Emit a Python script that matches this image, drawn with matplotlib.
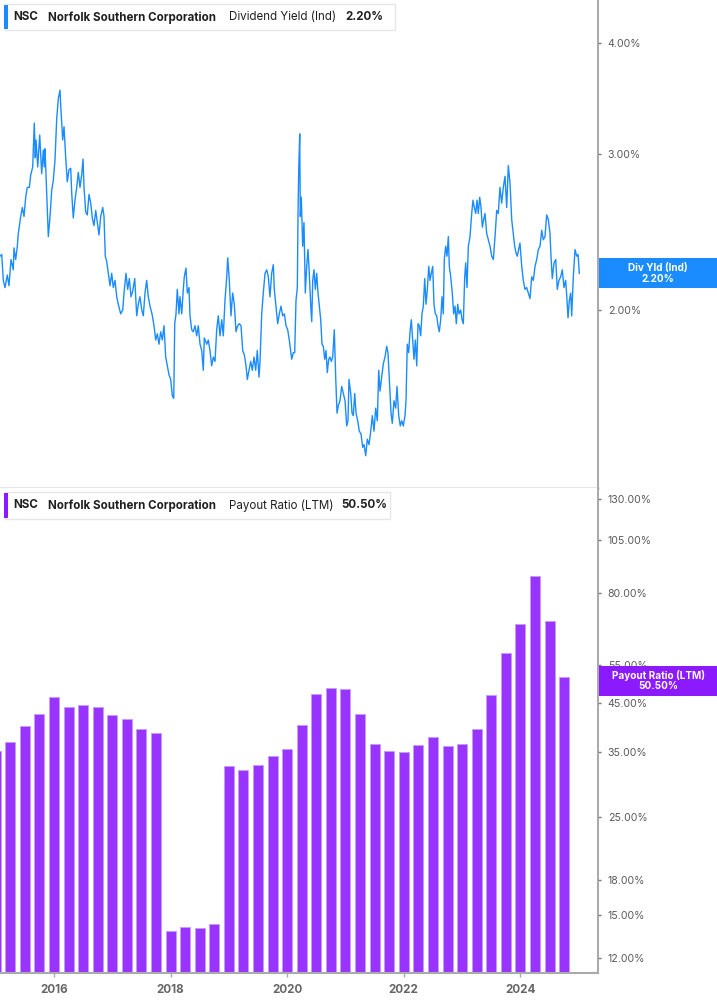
import matplotlib
matplotlib.use("Agg")
import matplotlib.pyplot as plt
from matplotlib.patches import Rectangle
from matplotlib.ticker import NullLocator

# ---------------- data ----------------
div_years = [
    2015.074, 2015.103, 2015.131, 2015.160, 2015.199, 2015.228, 2015.263, 2015.302, 2015.314, 2015.343,
    2015.371, 2015.388, 2015.429, 2015.457, 2015.486, 2015.515, 2015.542, 2015.577, 2015.601, 2015.635,
    2015.662, 2015.679, 2015.692, 2015.721, 2015.755, 2015.789, 2015.817, 2015.834, 2015.846, 2015.875,
    2015.903, 2015.932, 2015.961, 2015.988, 2016.017, 2016.047, 2016.074, 2016.103, 2016.120, 2016.149,
    2016.172, 2016.201, 2016.228, 2016.258, 2016.287, 2016.304, 2016.331, 2016.360, 2016.390, 2016.417,
    2016.446, 2016.475, 2016.498, 2016.515, 2016.544, 2016.571, 2016.601, 2016.630, 2016.657, 2016.686,
    2016.716, 2016.743, 2016.772, 2016.801, 2016.836, 2016.858, 2016.880, 2016.904, 2016.932, 2016.961,
    2016.990, 2017.017, 2017.047, 2017.076, 2017.103, 2017.144, 2017.179, 2017.201, 2017.235, 2017.264,
    2017.292, 2017.321, 2017.350, 2017.385, 2017.419, 2017.446, 2017.475, 2017.505, 2017.532, 2017.561,
    2017.590, 2017.618, 2017.647, 2017.681, 2017.716, 2017.745, 2017.772, 2017.801, 2017.830, 2017.858,
    2017.887, 2017.916, 2017.944, 2017.973, 2018.002, 2018.030, 2018.054, 2018.071, 2018.093, 2018.115,
    2018.144, 2018.161, 2018.191, 2018.218, 2018.235, 2018.264, 2018.287, 2018.316, 2018.333, 2018.362,
    2018.390, 2018.419, 2018.448, 2018.475, 2018.505, 2018.534, 2018.561, 2018.578, 2018.620, 2018.647,
    2018.676, 2018.705, 2018.733, 2018.762, 2018.791, 2018.818, 2018.848, 2018.877, 2018.904, 2018.933,
    2018.963, 2018.980, 2019.007, 2019.036, 2019.065, 2019.093, 2019.122, 2019.151, 2019.179, 2019.208,
    2019.237, 2019.265, 2019.294, 2019.316, 2019.345, 2019.374, 2019.402, 2019.431, 2019.460, 2019.487,
    2019.517, 2019.534, 2019.563, 2019.590, 2019.620, 2019.649, 2019.676, 2019.705, 2019.734, 2019.762,
    2019.779, 2019.808, 2019.837, 2019.865, 2019.894, 2019.923, 2019.951, 2019.980, 2020.009, 2020.036,
    2020.077, 2020.105, 2020.129, 2020.151, 2020.174, 2020.186, 2020.198, 2020.215, 2020.225, 2020.242,
    2020.266, 2020.288, 2020.311, 2020.335, 2020.357, 2020.379, 2020.403, 2020.421, 2020.438, 2020.460,
    2020.483, 2020.506, 2020.529, 2020.551, 2020.575, 2020.597, 2020.620, 2020.644, 2020.666, 2020.688,
    2020.712, 2020.734, 2020.757, 2020.781, 2020.808, 2020.832, 2020.855, 2020.877, 2020.906, 2020.935,
    2020.963, 2020.992, 2021.021, 2021.043, 2021.060, 2021.090, 2021.112, 2021.134, 2021.158, 2021.181,
    2021.210, 2021.237, 2021.266, 2021.295, 2021.318, 2021.347, 2021.374, 2021.404, 2021.433, 2021.460,
    2021.489, 2021.518, 2021.546, 2021.570, 2021.592, 2021.621, 2021.649, 2021.678, 2021.707, 2021.729,
    2021.752, 2021.781, 2021.803, 2021.832, 2021.861, 2021.884, 2021.913, 2021.940, 2021.964, 2021.992,
    2022.021, 2022.038, 2022.060, 2022.084, 2022.107, 2022.129, 2022.153, 2022.175, 2022.198, 2022.222,
    2022.244, 2022.266, 2022.290, 2022.312, 2022.335, 2022.359, 2022.381, 2022.404, 2022.428, 2022.450,
    2022.472, 2022.496, 2022.518, 2022.541, 2022.565, 2022.587, 2022.609, 2022.633, 2022.656, 2022.678,
    2022.695, 2022.719, 2022.741, 2022.764, 2022.781, 2022.805, 2022.832, 2022.856, 2022.879, 2022.901,
    2022.925, 2022.947, 2022.976, 2022.999, 2023.021, 2023.045, 2023.062, 2023.084, 2023.107, 2023.136,
    2023.165, 2023.187, 2023.210, 2023.234, 2023.256, 2023.278, 2023.302, 2023.325, 2023.347, 2023.371,
    2023.393, 2023.422, 2023.450, 2023.479, 2023.508, 2023.536, 2023.565, 2023.594, 2023.621, 2023.650,
    2023.679, 2023.707, 2023.736, 2023.765, 2023.793, 2023.822, 2023.851, 2023.878, 2023.902, 2023.925,
    2023.947, 2023.971, 2023.993, 2024.023, 2024.050, 2024.079, 2024.108, 2024.136, 2024.165, 2024.194,
    2024.222, 2024.251, 2024.280, 2024.307, 2024.337, 2024.366, 2024.393, 2024.422, 2024.451, 2024.479,
    2024.508, 2024.525, 2024.547, 2024.577, 2024.606, 2024.633, 2024.662, 2024.691, 2024.719, 2024.748,
    2024.777, 2024.800, 2024.817, 2024.839, 2024.863, 2024.880, 2024.908, 2024.937, 2024.966, 2024.989,
    2025.011,
]
div_yield = [
    2.30, 2.31, 2.16, 2.12, 2.19, 2.13, 2.28, 2.22, 2.35, 2.28,
    2.36, 2.44, 2.55, 2.61, 2.55, 2.68, 2.75, 2.75, 2.84, 2.90,
    3.25, 2.97, 3.11, 2.90, 3.15, 2.85, 3.03, 2.90, 3.04, 2.71,
    2.42, 2.55, 2.73, 2.80, 2.95, 3.29, 3.46, 3.54, 3.36, 3.11,
    3.22, 2.97, 2.79, 2.88, 2.89, 2.71, 2.54, 2.66, 2.75, 2.86,
    2.75, 2.84, 2.96, 2.75, 2.58, 2.56, 2.70, 2.64, 2.54, 2.49,
    2.59, 2.51, 2.43, 2.55, 2.61, 2.55, 2.30, 2.27, 2.20, 2.13,
    2.20, 2.12, 2.16, 2.07, 2.03, 1.98, 2.00, 2.09, 2.20, 2.11,
    2.17, 2.07, 2.10, 2.17, 1.97, 2.03, 2.07, 2.00, 1.97, 2.09,
    2.16, 2.07, 2.02, 1.98, 1.92, 1.85, 1.88, 1.83, 1.89, 1.85,
    1.92, 1.77, 1.73, 1.69, 1.67, 1.60, 1.59, 1.93, 1.98, 2.11,
    1.98, 2.07, 1.98, 2.11, 2.18, 2.23, 2.09, 2.12, 1.97, 1.90,
    1.89, 1.92, 1.87, 1.92, 1.83, 1.80, 1.71, 1.86, 1.83, 1.85,
    1.80, 1.73, 1.77, 1.75, 1.90, 1.97, 1.87, 1.95, 1.87, 2.05,
    2.18, 2.29, 2.16, 1.97, 2.09, 2.03, 1.89, 1.92, 1.93, 1.92,
    1.80, 1.78, 1.73, 1.67, 1.71, 1.75, 1.71, 1.77, 1.71, 1.80,
    1.68, 1.75, 1.98, 2.09, 2.20, 2.22, 2.18, 2.07, 2.20, 2.25,
    2.11, 2.02, 1.93, 1.98, 2.02, 1.97, 1.98, 1.92, 1.90, 1.85,
    1.76, 1.79, 1.79, 2.05, 2.12, 2.57, 2.88, 3.16, 2.55, 2.68,
    2.36, 2.51, 2.09, 2.24, 2.34, 2.20, 2.03, 1.94, 2.16, 2.22,
    2.11, 2.20, 2.09, 2.02, 1.95, 1.83, 1.82, 1.76, 1.80, 1.70,
    1.76, 1.77, 1.75, 1.77, 1.90, 1.68, 1.53, 1.56, 1.58, 1.64,
    1.61, 1.58, 1.48, 1.50, 1.67, 1.61, 1.53, 1.52, 1.61, 1.53,
    1.50, 1.46, 1.45, 1.40, 1.41, 1.37, 1.43, 1.41, 1.46, 1.52,
    1.46, 1.55, 1.50, 1.71, 1.62, 1.68, 1.74, 1.77, 1.82, 1.79,
    1.67, 1.53, 1.49, 1.58, 1.55, 1.64, 1.52, 1.48, 1.50, 1.48,
    1.52, 1.58, 1.83, 1.79, 1.89, 1.95, 1.85, 1.76, 1.85, 1.73,
    1.93, 1.92, 1.87, 1.98, 2.02, 2.17, 2.03, 2.11, 2.24, 2.16,
    2.20, 2.24, 2.03, 1.98, 1.97, 1.92, 1.89, 1.95, 2.07, 1.98,
    2.28, 2.36, 2.30, 2.42, 2.24, 2.18, 2.09, 1.98, 2.02, 1.93,
    2.03, 1.98, 2.00, 1.95, 1.93, 2.18, 2.26, 2.12, 2.36, 2.42,
    2.57, 2.66, 2.61, 2.57, 2.66, 2.57, 2.68, 2.61, 2.48, 2.53,
    2.57, 2.44, 2.40, 2.36, 2.30, 2.28, 2.42, 2.59, 2.57, 2.75,
    2.64, 2.75, 2.83, 2.61, 2.91, 2.78, 2.53, 2.44, 2.36, 2.32,
    2.30, 2.34, 2.38, 2.24, 2.16, 2.11, 2.12, 2.09, 2.06, 2.18,
    2.16, 2.24, 2.28, 2.34, 2.36, 2.46, 2.40, 2.42, 2.56, 2.53,
    2.44, 2.30, 2.17, 2.26, 2.28, 2.11, 2.16, 2.18, 2.22, 2.12,
    2.16, 2.05, 1.96, 2.05, 2.09, 1.97, 2.18, 2.34, 2.30, 2.31,
    2.20,
]

payout_quarters = [
    2015.00, 2015.25, 2015.50, 2015.75, 2016.00, 2016.25, 2016.50, 2016.75,
    2017.00, 2017.25, 2017.50, 2017.75, 2018.00, 2018.25, 2018.50, 2018.75,
    2019.00, 2019.25, 2019.50, 2019.75, 2020.00, 2020.25, 2020.50, 2020.75,
    2021.00, 2021.25, 2021.50, 2021.75, 2022.00, 2022.25, 2022.50, 2022.75,
    2023.00, 2023.25, 2023.50, 2023.75, 2024.00, 2024.25, 2024.50, 2024.75,
]
payout_ratio = [
    34.1, 35.8, 39.1, 41.6, 45.6, 43.1, 43.6, 43.1,
    41.4, 40.4, 38.5, 37.6, 12.8, 13.1, 13.0, 13.3,
    31.5, 30.9, 31.6, 33.2, 34.6, 39.3, 46.2, 47.8,
    47.4, 41.7, 35.5, 34.1, 34.0, 35.2, 36.8, 35.1,
    35.5, 38.5, 46.1, 57.5, 66.8, 86.4, 67.9, 50.5,
]

yield_ticks = [2.0, 3.0, 4.0]
payout_ticks = [12, 15, 18, 25, 35, 45, 55, 80, 105, 130]
year_ticks = [2016, 2018, 2020, 2022, 2024]

company = "Norfolk Southern Corporation"
ticker = "NSC"
last_yield = "2.20%"
last_payout = "50.50%"

# ---------------- styling ----------------
BLUE = "#1a8cff"
PURPLE_BAR = "#9933ff"
PURPLE_BOX = "#8c1aff"
FONT = "Inter"

W, H = 717, 1005
fig = plt.figure(figsize=(W / 100, H / 100), dpi=100)
fig.patch.set_facecolor("white")


def fx(x):
    return x / W


def fy(y):
    return 1 - y / H


x_lo = 2015.074
x_hi = 2015.074 + 598 / 58.3

ax1 = fig.add_axes([0, fy(488), fx(598), 488 / H])
ax2 = fig.add_axes([0, fy(973), fx(598), (973 - 488) / H])

# top: dividend yield
ax1.plot(div_years, div_yield, color=BLUE, lw=1.0, solid_joinstyle="round")
ax1.set_yscale("log")
ax1.set_ylim(1.2596, 4.474)
ax1.set_xlim(x_lo, x_hi)

# bottom: payout ratio
ax2.bar(payout_quarters, payout_ratio, width=0.1715, bottom=1,
        color=PURPLE_BAR, edgecolor="#c79bff", linewidth=0.7)
ax2.set_yscale("log")
ax2.set_ylim(11.10, 137.7)
ax2.set_xlim(x_lo, x_hi)

for ax, ticks in ((ax1, yield_ticks), (ax2, payout_ticks)):
    ax.yaxis.tick_right()
    ax.set_yticks(ticks)
    ax.set_yticklabels([f"{t:.2f}%" for t in ticks])
    ax.yaxis.set_minor_locator(NullLocator())
    ax.tick_params(axis="y", length=2, width=1, color="#777", pad=5,
                   labelsize=7.6, labelcolor="#5a5a5a")
    for lab in ax.get_yticklabels():
        lab.set_fontfamily(FONT)
    ax.spines["top"].set_visible(False)
    ax.spines["left"].set_visible(False)
    ax.spines["right"].set_color("#9a9a9a")
    ax.spines["right"].set_linewidth(1.2)
    ax.xaxis.set_minor_locator(NullLocator())

ax1.spines["bottom"].set_color("#e2e2e2")
ax1.spines["bottom"].set_linewidth(2)
ax1.tick_params(axis="x", bottom=False, labelbottom=False)

ax2.spines["bottom"].set_color("#aaaaaa")
ax2.spines["bottom"].set_linewidth(1.5)
ax2.set_xticks(year_ticks)
ax2.set_xticklabels([str(y) for y in year_ticks])
ax2.tick_params(axis="x", length=3, width=1, color="#aaaaaa", pad=5,
                labelsize=8.4, labelcolor="#666666")
for lab in ax2.get_xticklabels():
    lab.set_fontfamily(FONT)
    lab.set_fontweight("bold")


# headers
def header(ytop, box_right, color, metric, metric_value, value_x):
    box = Rectangle((fx(5), fy(ytop + 26.5)), fx(box_right - 5), 26.5 / H,
                    transform=fig.transFigure, facecolor="white",
                    edgecolor="#e6e6e6", linewidth=1, zorder=5)
    fig.patches.append(box)
    bar = Rectangle((fx(4), fy(ytop + 25.5)), fx(3.5), 24.5 / H,
                    transform=fig.transFigure, facecolor=color,
                    edgecolor="none", zorder=6)
    fig.patches.append(bar)
    yc = fy(ytop + 13.3)
    kw = dict(va="center", ha="left", fontsize=8.3, family=FONT,
              color="#1f1f1f", zorder=7)
    fig.text(fx(13.3), yc, ticker, fontweight="bold", **kw)
    fig.text(fx(48.3), yc, company, fontweight="bold", **kw)
    fig.text(fx(229.3), yc, metric, fontweight="normal", **kw)
    fig.text(fx(value_x), yc, metric_value, fontweight="bold", **kw)


header(4.0, 395, BLUE, "Dividend Yield (Ind)", last_yield, 345.7)
header(492.0, 390, PURPLE_BOX, "Payout Ratio (LTM)", last_payout, 341.7)


# right value boxes
def value_box(ytop, ybot, color, line1, line2):
    rect = Rectangle((fx(598.5), fy(ybot)), 1 - fx(598.5), (ybot - ytop) / H,
                     transform=fig.transFigure, facecolor=color,
                     edgecolor="none", zorder=5)
    fig.patches.append(rect)
    kw = dict(ha="center", va="center", fontsize=7.2, family=FONT,
              fontweight="bold", color="white", zorder=6)
    fig.text(fx(658), fy(ytop + 9.7), line1, **kw)
    fig.text(fx(658), fy(ytop + 20.3), line2, **kw)


value_box(258.3, 288.3, BLUE, "Div Yld (Ind)", last_yield)
value_box(666.0, 696.0, PURPLE_BOX, "Payout Ratio (LTM)", last_payout)

fig.savefig("out.png", dpi=100, facecolor="white")
